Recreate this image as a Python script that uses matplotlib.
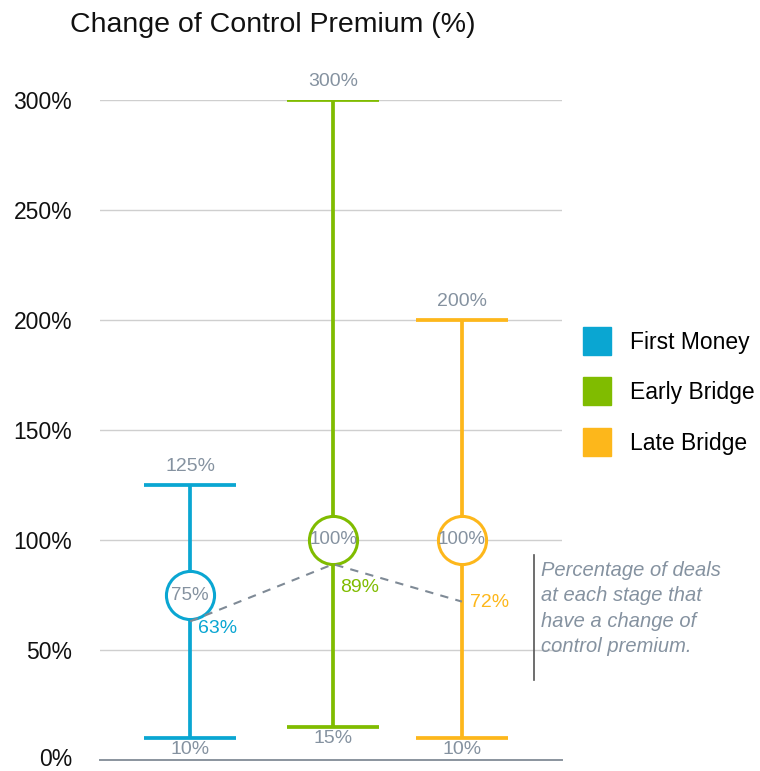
import matplotlib
matplotlib.use("Agg")
import matplotlib.pyplot as plt
import matplotlib.transforms as mtransforms
from matplotlib.lines import Line2D

plt.rcParams["font.family"] = ["Liberation Sans", "DejaVu Sans"]

# ---------------------------------------------------------------------------
# Data
# ---------------------------------------------------------------------------
stages = ["First Money", "Early Bridge", "Late Bridge"]
low_pct = [10, 15, 10]
high_pct = [125, 300, 200]
median_pct = [75, 100, 100]
deal_share = [63, 89, 72]
colors = ["#0aa6d2", "#80bc00", "#fdb71b"]
yticks = [0, 50, 100, 150, 200, 250, 300]
note = "Percentage of deals\nat each stage that\nhave a change of\ncontrol premium."

xpos = [0, 1, 1.9]
label_grey = "#8592a0"

fig = plt.figure(figsize=(7.6, 7.71), dpi=100)
ax = fig.add_axes([100 / 760, 11 / 771, 462 / 760, 660 / 771])
ax.set_xlim(-0.63, 2.6)
ax.set_ylim(0, 300)

# grid + baseline
for t in yticks[1:]:
    ax.axhline(t, color="#cfcfcf", lw=1.0, zorder=0)
ax.axhline(0, color="#8a949e", lw=1.4, zorder=0, clip_on=False)

# range bars
cap = 0.32
for x, lo, hi, c in zip(xpos, low_pct, high_pct, colors):
    ax.plot([x, x], [lo, hi], color=c, lw=2.7, solid_capstyle="butt", zorder=2)
    ax.plot([x - cap, x + cap], [lo, lo], color=c, lw=2.7, solid_capstyle="butt", zorder=2)
    ax.plot([x - cap, x + cap], [hi, hi], color=c, lw=2.7, solid_capstyle="butt", zorder=2)
    ax.annotate(f"{hi}%", (x, hi), xytext=(0, 7), textcoords="offset points",
                ha="center", va="bottom", color=label_grey, fontsize=14,
                annotation_clip=False)
    ax.annotate(f"{lo}%", (x, lo), xytext=(0, -2), textcoords="offset points",
                ha="center", va="top", color=label_grey, fontsize=14,
                annotation_clip=False)

# medians
for x, m, c in zip(xpos, median_pct, colors):
    ax.scatter([x], [m], s=1200, facecolor="white", edgecolor=c, lw=2.2, zorder=3)
    ax.text(x, m, f"{m}%", ha="center", va="center", color=label_grey,
            fontsize=13.5, zorder=4)

# share of deals with a change of control premium
ax.plot(xpos, deal_share, color="#7f8a96", lw=1.5, ls=(0, (4, 3.5)), zorder=4)
offsets = [(6, -5), (5, -17), (6, -1)]
for x, v, c, off in zip(xpos, deal_share, colors, offsets):
    ax.annotate(f"{v}%", (x, v), xytext=off, textcoords="offset points",
                ha="left", va="center", color=c, fontsize=14, zorder=5)

ax.set_yticks(yticks)
ax.set_yticklabels([f"{t}%" for t in yticks])
ax.tick_params(axis="y", length=0, pad=20, labelsize=16.5, labelcolor="#111111")
zero_lbl = ax.get_yticklabels()[0]
zero_lbl.set_transform(zero_lbl.get_transform() +
                       mtransforms.ScaledTranslation(0, 3 / 100, fig.dpi_scale_trans))
ax.set_xticks([])
for s in ax.spines.values():
    s.set_visible(False)

fig.text(70 / 760, 1 - 25 / 771, "Change of Control Premium (%)", fontsize=20.5,
         va="center", ha="left", color="#111111")

# legend
handles = [Line2D([], [], marker="s", ls="none", markersize=20, color=c) for c in colors]
fig.legend(handles, stages, loc="upper left", bbox_to_anchor=(553 / 760, 1 - 310 / 771),
           frameon=False, handletextpad=0.45, labelspacing=1.2,
           prop={"size": 16.5})

# note
fig.add_artist(Line2D([534 / 760, 534 / 760], [1 - 555 / 771, 1 - 680 / 771],
                      color="#555555", lw=1.2))
fig.text(541 / 760, 1 - 561 / 771, note, fontsize=14.5, style="italic",
         color="#8592a0", va="top", ha="left", linespacing=1.42)

fig.savefig("out.png", dpi=100)
